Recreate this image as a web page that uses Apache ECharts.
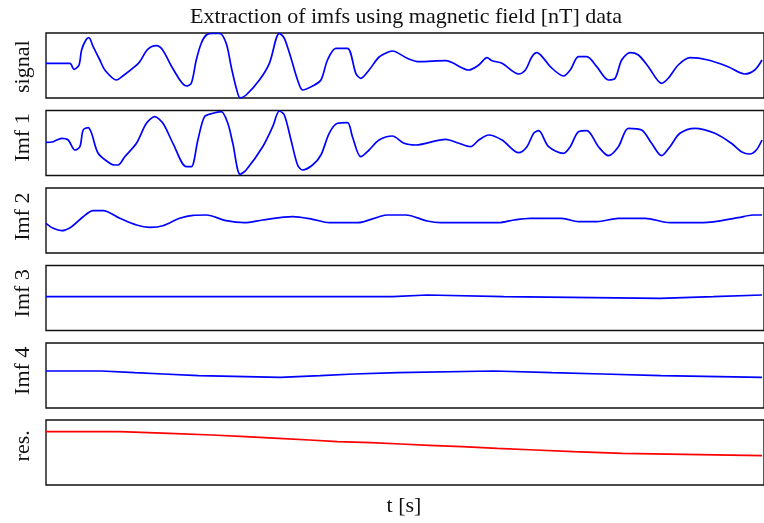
<!DOCTYPE html>
<html>
<head>
<meta charset="utf-8">
<script src="https://cdn.jsdelivr.net/npm/echarts@6/dist/echarts.min.js"></script>
<style>
html,body{margin:0;padding:0;background:#fff;}
#chart{width:764px;height:523px;}
</style>
</head>
<body>
<div id="chart"></div>
<script>
// ---- Data (time in samples, values in nT relative to panel centre) ----
var titleText = 'Extraction of imfs using magnetic field [nT] data';
var xLabel = 't [s]';
var panelLabels = ['signal', 'Imf 1', 'Imf 2', 'Imf 3', 'Imf 4', 'res.'];

var signalT = [0,24,28,33,35.7,40,43,47.3,54,59,70.7,77,89,94,102,110.7,117,127,140.7,145.7,150.7,155.7,160.7,167,174,180.7,185.7,191.3,194.7,200.7,214,224,234,239,245.7,252.3,257.3,267.3,275.7,282.3,290.7,302.3,310.7,315.7,324,334,344,347.3,362.3,374,400.7,424,434,442.3,447.3,457.3,474,480.7,487.3,492.3,499,505.7,519,525.7,534,542.3,552.3,564,570.7,577.3,585.7,594,604,617.3,624,634,645.7,664,684,700.7,710.7,718];
var signalV = [2.2,2.2,-3.8,0.2,15.5,25.5,27.8,18.8,5.5,-4.5,-14.5,-10.5,-1.2,3.8,16.2,19.8,15.5,-2.8,-20.5,-17.8,5.5,22.2,30.5,32.2,32.2,22.2,-1.2,-24.5,-32.3,-29.5,-14.5,2.2,32.2,27.2,7.2,-14.5,-24.5,-20.5,-14.5,5.5,17.2,17.2,-7.8,-12.8,-4.5,8.5,13.8,14.5,7.2,3.8,4.8,-4.5,0.5,7.8,4.8,2.2,-8.5,-4.5,8.8,12.8,7.2,-1.2,-10.5,-4.5,8.8,8.8,-1.2,-14.5,-12.8,5.5,12.8,10.5,-1.2,-17.8,-12.8,0.5,7.8,5.5,-1.2,-8.5,-4.5,5.5];

var imf1T = [0,7.3,15.7,22.3,29,34,37.3,42.3,45.7,52.3,64,69,72.3,79,90.7,100.7,109,117.3,127.3,140.7,145.7,152.3,159,167.3,175.7,182.3,187.3,194.7,200.7,217.3,227.3,234,239,245.7,252.3,257.3,267.3,275.7,284,292.3,302.3,307.3,315.7,324,334,347.3,359,370.7,400.7,414,425.7,434,444,457.3,474,482.3,489,494,504,519,525.7,534,542.3,554,564,574,584,597.3,607.3,617.3,625.7,635.7,650.7,670.7,687.3,697.3,705.7,712.3,718];
var imf1V = [0.7,1.3,4.7,3,-7,-3.7,13,15.3,9.7,-10.3,-20.3,-22,-22,-13.7,-0.3,19.7,26.3,19.7,-0.3,-23.7,-23.7,3,26.3,29.7,31.3,19.7,-0.3,-31.3,-27,-3.7,16.3,32,28,3,-22,-27,-22,-12,9.7,19.7,20.3,6.3,-13.7,-7,3,7,-0.3,-2,3.7,-0.3,-3.7,3,8,3,-9.7,-3.7,9.7,12.3,-3.7,-10.3,-3.7,11.3,12.3,-3.7,-12.7,-3.7,14.7,13,-0.3,-12.7,-3.7,9.7,14.7,9.7,-0.3,-8.7,-11,-7,3];

var imf2T = [0,7.3,15.7,25.7,37.3,47.3,57.3,74,90.7,104,117.3,134,147.3,160.7,180.7,199,217.3,247.3,267.3,284,312.3,334,342.3,360.7,382.3,395.7,454,469,485.7,517.3,534,552.3,574,600.7,625.7,659,694,709,718];
var imf2V = [-2.8,-7.8,-10.2,-6.2,3.8,9.8,9.8,2.2,-4.5,-6.8,-5.2,2.2,5.2,5.5,-0.2,-2.2,0.5,3.8,1.2,-2.2,-2.2,3.8,5.5,5.5,-0.5,-2.2,-2.2,0.5,2.2,2.2,-1.2,-1.2,2.2,2.2,-2.2,-2.2,2.8,5.5,5.5];

// step-wise components: value holds from each time until the next one
var imf3T = [0,347.3,382.3,459,615.7,669,718];
var imf3V = [1.3,3.0,1.3,-0.3,1.3,3.0,3.0];

var imf4T = [0,55.7,89,117.3,153,235,275,309,352.3,449,507.3,558,616.7,718];
var imf4V = [4.5,2.8,1.5,-0.2,-1.8,-0.2,1.5,2.8,4.5,2.8,1.5,-0.2,-1.8,-1.8];

var resT = [0,74,123.3,166.3,200,233.3,264,292.3,325.7,355.7,384,417.3,452.3,490.7,529,578,639.7,718];
var resV = [20.8,19.2,17.5,15.8,14.2,12.5,10.8,9.8,8.5,7.2,5.8,4.2,2.5,0.8,-0.8,-1.8,-3.2,-3.2];

// ---- Build chart ----
var seriesDefs = [
  {t: signalT, v: signalV, color: '#0000ff', step: false},
  {t: imf1T, v: imf1V, color: '#0000ff', step: false},
  {t: imf2T, v: imf2V, color: '#0000ff', step: false},
  {t: imf3T, v: imf3V, color: '#0000ff', step: true},
  {t: imf4T, v: imf4V, color: '#0000ff', step: true},
  {t: resT, v: resV, color: '#ff0000', step: true}
];
var gridTops = [33, 110.5, 188, 265.5, 343, 420];
var gridH = 65;
var labelCenters = [66.7, 137.5, 216.7, 293.3, 370.8, 445.8];
var FONT = '"Liberation Serif", "DejaVu Serif", serif';

function pairs(t, v, step) {
  var out = [];
  for (var i = 0; i < t.length; i++) {
    out.push([t[i], v[i]]);
    if (step && i < t.length - 1) out.push([t[i + 1], v[i]]);
  }
  return out;
}

var grids = [], xAxes = [], yAxes = [], series = [], graphics = [];
seriesDefs.forEach(function (d, i) {
  grids.push({left: 46, width: 720, top: gridTops[i], height: gridH, show: true,
    borderColor: '#111', borderWidth: 1.4, backgroundColor: 'transparent', containLabel: false});
  xAxes.push({type: 'value', gridIndex: i, min: 0, max: 720, show: false});
  yAxes.push({type: 'value', gridIndex: i, min: -32.5, max: 32.5, show: false});
  series.push({type: 'line', xAxisIndex: i, yAxisIndex: i, data: pairs(d.t, d.v, d.step),
    smooth: d.step ? false : 0.3, showSymbol: false, symbol: 'none', animation: false, silent: true,
    lineStyle: {color: d.color, width: 1.7}, clip: true});
  graphics.push({type: 'text', x: 23, y: labelCenters[i], rotation: Math.PI / 2,
    style: {text: panelLabels[i], font: '22px ' + FONT, fill: '#111',
      textAlign: 'center', textVerticalAlign: 'middle'}});
});
graphics.push({type: 'text', x: 406, y: 17, style: {text: titleText, font: '22px ' + FONT,
  fill: '#111', textAlign: 'center', textVerticalAlign: 'middle'}});
graphics.push({type: 'text', x: 404, y: 506, style: {text: xLabel, font: '22px ' + FONT,
  fill: '#111', textAlign: 'center', textVerticalAlign: 'middle'}});

var chart = echarts.init(document.getElementById('chart'), null, {renderer: 'canvas'});
chart.setOption({
  animation: false,
  backgroundColor: '#ffffff',
  grid: grids,
  xAxis: xAxes,
  yAxis: yAxes,
  series: series,
  graphic: graphics
});
</script>
</body>
</html>
